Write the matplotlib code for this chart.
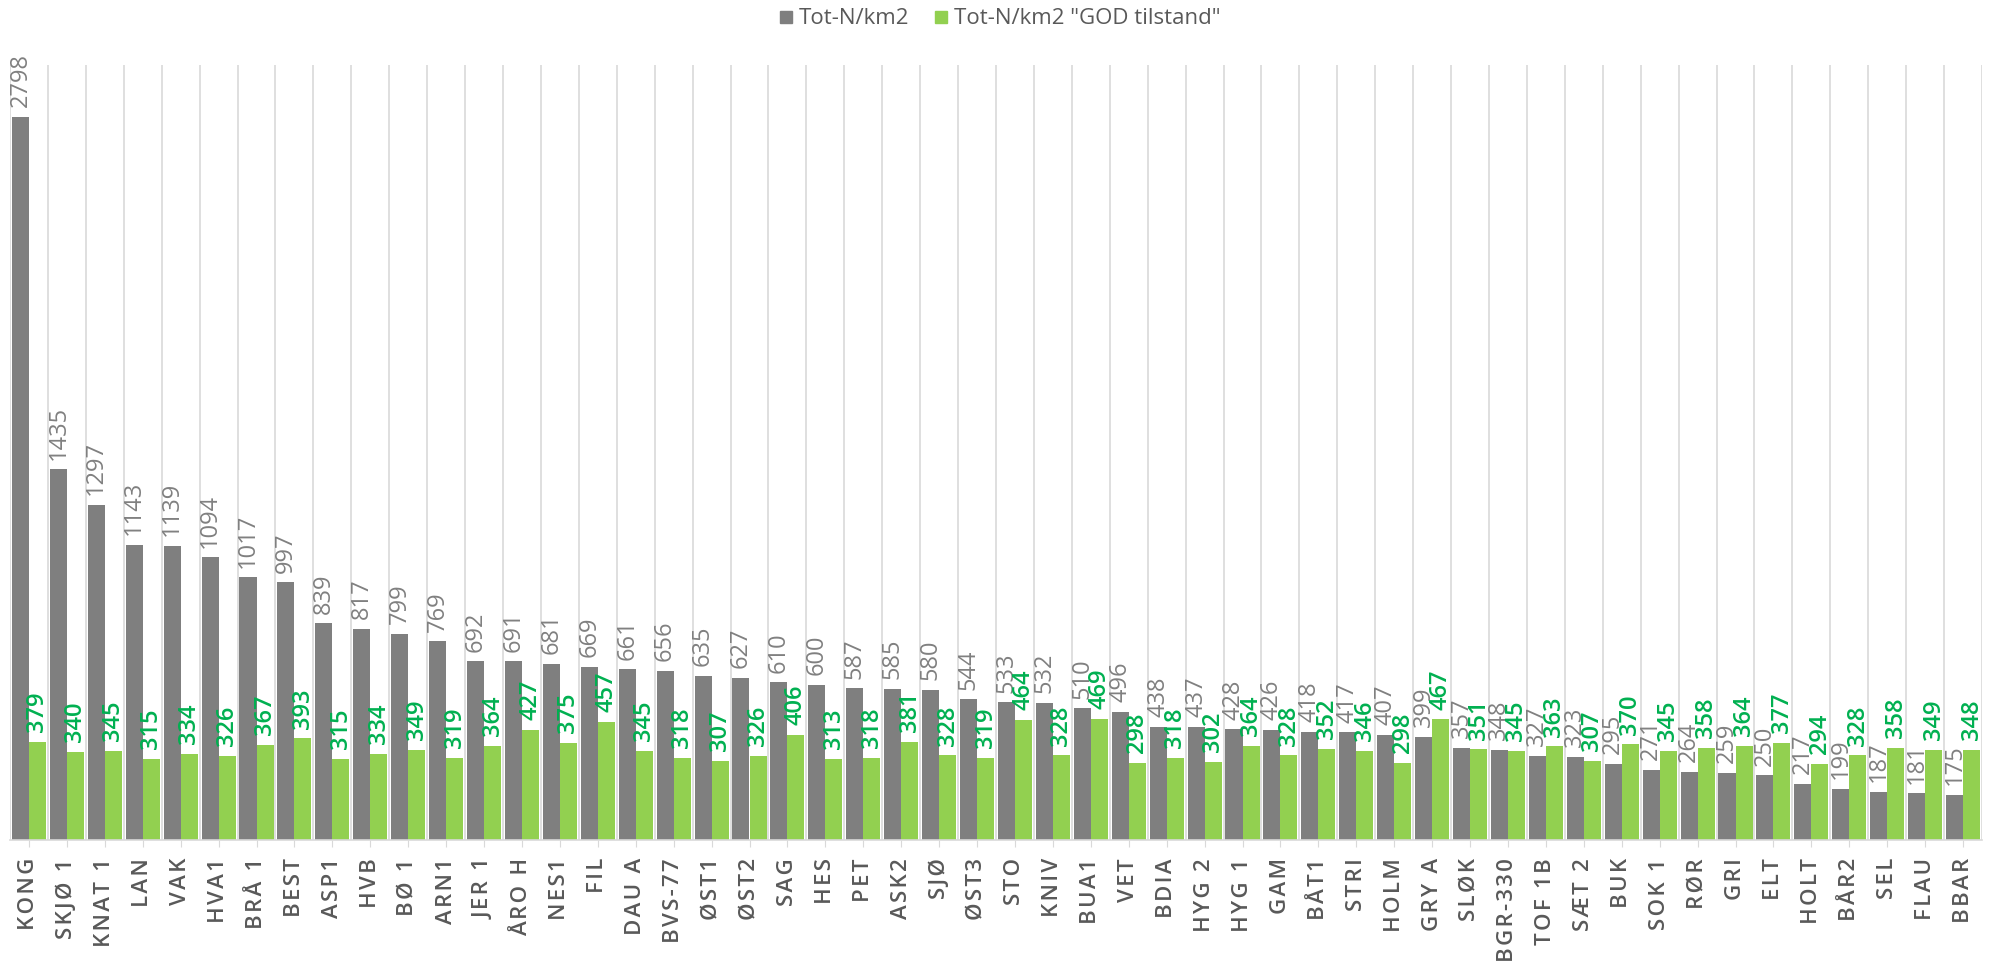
import matplotlib
matplotlib.use("Agg")
import matplotlib.pyplot as plt
import numpy as np
from matplotlib.lines import Line2D

stations = [
    "KONG", "SKJØ 1", "KNAT 1", "LAN", "VAK", "HVA1", "BRÅ 1", "BEST", "ASP1", "HVB",
    "BØ 1", "ARN1", "JER 1", "ÅRO H", "NES1", "FIL", "DAU A", "BVS-77", "ØST1", "ØST2",
    "SAG", "HES", "PET", "ASK2", "SJØ", "ØST3", "STO", "KNIV", "BUA1", "VET",
    "BDIA", "HYG 2", "HYG 1", "GAM", "BÅT1", "STRI", "HOLM", "GRY A", "SLØK", "BGR-330",
    "TOF 1B", "SÆT 2", "BUK", "SOK 1", "RØR", "GRI", "ELT", "HOLT", "BÅR2", "SEL",
    "FLAU", "BBAR",
]
tot_n = [
    2798, 1435, 1297, 1143, 1139, 1094, 1017, 997, 839, 817,
    799, 769, 692, 691, 681, 669, 661, 656, 635, 627,
    610, 600, 587, 585, 580, 544, 533, 532, 510, 496,
    438, 437, 428, 426, 418, 417, 407, 399, 357, 348,
    327, 323, 295, 271, 264, 259, 250, 217, 199, 187,
    181, 175,
]
tot_n_god = [
    379, 340, 345, 315, 334, 326, 367, 393, 315, 334,
    349, 319, 364, 427, 375, 457, 345, 318, 307, 326,
    406, 313, 318, 381, 328, 319, 464, 328, 469, 298,
    318, 302, 364, 328, 352, 346, 298, 467, 351, 345,
    363, 307, 370, 345, 358, 364, 377, 294, 328, 358,
    349, 348,
]
series_names = ["Tot-N/km2", 'Tot-N/km2 "GOD tilstand"']

GREY = "#7f7f7f"
GREEN = "#92d050"
GREEN_TXT = "#00b050"

plt.rcParams["font.family"] = ["Open Sans", "DejaVu Sans"]


def spaced(s):
    # Excel-style letter spacing on the category labels
    return "\u200a".join(s)


fig = plt.figure(figsize=(19.95, 9.68), dpi=100)
ax = fig.add_axes([10 / 1995, 128 / 968, 1972 / 1995, 775 / 968])

x = np.arange(len(stations))
w = 0.45
ax.bar(x - w / 2, tot_n, width=w, color=GREY, zorder=2)
ax.bar(x + w / 2, tot_n_god, width=w, color=GREEN, zorder=2)

for xi, v in zip(x, tot_n):
    ax.annotate(str(v), (xi - w / 2, v), xytext=(0, 7), textcoords="offset points",
                rotation=90, ha="center", va="bottom", fontsize=17, color="#808080")
for xi, v in zip(x, tot_n_god):
    ax.annotate(str(v), (xi + w / 2, v), xytext=(0, 7), textcoords="offset points",
                rotation=90, ha="center", va="bottom", fontsize=17, color=GREEN_TXT,
                fontweight="semibold")

ax.set_xlim(-0.5, len(stations) - 0.5)
ax.set_ylim(0, 3000)
ax.set_yticks([])
ax.set_xticks(x)
ax.set_xticklabels([spaced(s) for s in stations], rotation=90, fontsize=16,
                   color="#595959", fontweight="semibold")
ax.tick_params(axis="x", length=5, color="#d9d9d9", pad=8)
ax.set_xticks(np.arange(len(stations) + 1) - 0.5, minor=True)
ax.tick_params(axis="x", which="minor", length=0)
ax.grid(True, axis="x", which="minor", color="#d9d9d9", lw=1.2, zorder=0)
ax.grid(False, axis="x", which="major")
for s in ["top", "left", "right"]:
    ax.spines[s].set_visible(False)
ax.spines["bottom"].set_color("#d9d9d9")
ax.spines["bottom"].set_linewidth(1.2)

handles = [Line2D([], [], marker="s", ls="", color=GREY, markersize=8.5),
           Line2D([], [], marker="s", ls="", color=GREEN, markersize=8.5)]
fig.legend(handles, series_names, loc="center", bbox_to_anchor=(0.5, 1 - 19 / 968),
           ncol=2, frameon=False, fontsize=16, labelcolor="#595959",
           handletextpad=0.1, handlelength=1.0, columnspacing=0.9)

fig.savefig("out.png", dpi=100)
